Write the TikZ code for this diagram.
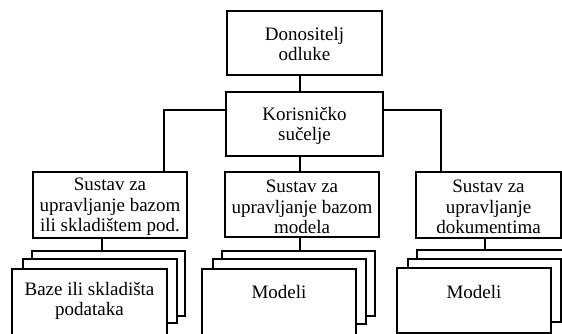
\documentclass[tikz,border=0pt]{standalone}
\usepackage{fontspec}
\setmainfont{Liberation Serif}
\begin{document}
\begin{tikzpicture}[x=1pt,y=-1pt,
  frame/.style={draw=black,line width=2pt,fill=white},
  lbl/.style={align=center,inner sep=0pt,font=\fontsize{19}{20.5}\selectfont},
  link/.style={draw=black,line width=2pt}]
\useasboundingbox (0,0) rectangle (562,334);
\clip (0,0) rectangle (562,334);

% top level boxes
\draw[frame] (227,11) rectangle (382,75);
\node[lbl] (dm) at (304.5,44) {Donositelj\\odluke};
\draw[frame] (226,92) rectangle (383,156);
\node[lbl] (ui) at (304.5,126) {Korisničko\\sučelje};

% management systems
\draw[frame] (33,172) rectangle (187,238);
\node[lbl] (sdb) at (110,207) {Sustav za\\upravljanje bazom\\ili skladištem pod.};
\draw[frame] (225,172) rectangle (379,237);
\node[lbl] (smb) at (302,207) {Sustav za\\upravljanje bazom\\modela};
\draw[frame] (416,172) rectangle (561,238);
\node[lbl] (sdoc) at (488.5,207) {Sustav za\\upravljanje\\dokumentima};

% stacked stores
\draw[frame] (32,251) rectangle (185,316);
\draw[frame] (23,259) rectangle (177,323);
\draw[frame] (12,269) rectangle (167,340);
\node[lbl] (data) at (89.5,301) {Baze ili skladišta\\podataka};

\draw[frame] (222,251) rectangle (375,316);
\draw[frame] (213,259) rectangle (366,324);
\draw[frame] (202,269) rectangle (356,340);
\node[lbl] (mod1) at (279,292) {Modeli};

\draw[frame] (417,250) rectangle (575,316);
\draw[frame] (408,259) rectangle (561,322);
\draw[frame] (397,268) rectangle (551,333);
\node[lbl] (mod2) at (474,292) {Modeli};

% connectors
\coordinate (b1) at (164,110);
\coordinate (b2) at (441,110);
\draw[link] (299.5,75) -- (299.5,92);
\draw[link] (299.5,156) -- (299.5,172);
\draw[link] (226,110) -- (b1) -- (164,172);
\draw[link] (383,110) -- (b2) -- (441,172);
\draw[link] (101.5,238) -- (101.5,251);
\draw[link] (300,237) -- (300,251);
\draw[link] (484.5,238) -- (484.5,250);
\end{tikzpicture}
\end{document}
